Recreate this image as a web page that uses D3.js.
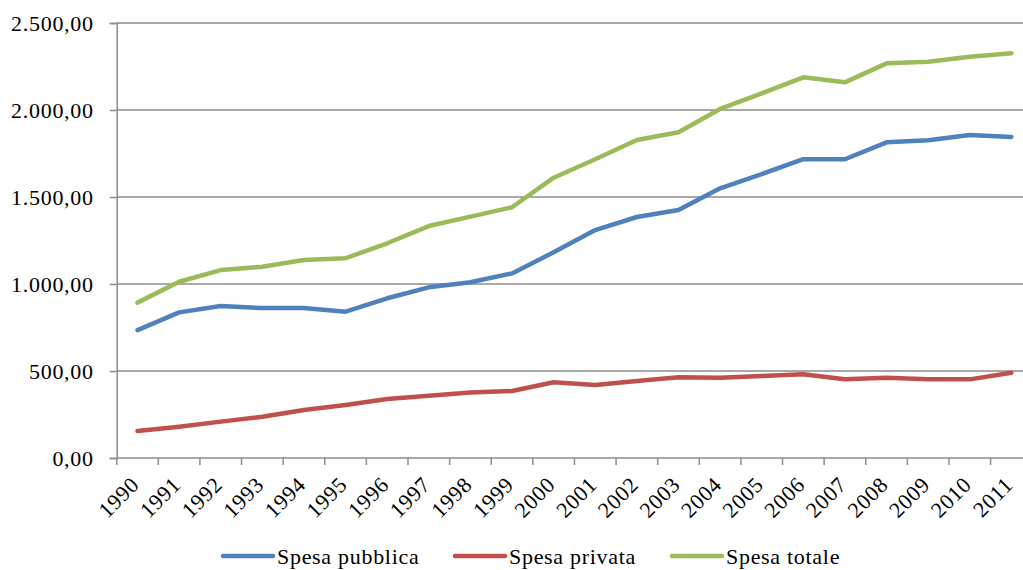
<!DOCTYPE html>
<html><head><meta charset="utf-8">
<script src="https://cdn.jsdelivr.net/npm/d3@7"></script>
<style>body{margin:0;background:#fff}svg{display:block}text{font-family:"Liberation Serif","Times New Roman",serif;fill:#000}</style>
</head><body>
<svg id="c" width="1023" height="570"></svg>
<script>
const years = ["1990","1991","1992","1993","1994","1995","1996","1997","1998","1999","2000","2001","2002","2003","2004","2005","2006","2007","2008","2009","2010","2011"];
const spesaPubblica = [735,837,873,862,862,841,918,981,1010,1061,1182,1310,1385,1425,1550,1632,1717,1717,1814,1826,1856,1845];
const spesaPrivata = [155,180,209,237,276,305,339,358,377,385,435,420,443,464,461,471,481,452,461,452,452,490];
const spesaTotale = [893,1013,1080,1099,1138,1148,1234,1333,1387,1441,1611,1717,1828,1872,2006,2096,2188,2159,2268,2277,2306,2326];
const yTicks = [0,500,1000,1500,2000,2500];
const seriesNames = ["Spesa pubblica","Spesa privata","Spesa totale"];
const colors = ["#4F81BD","#C0504D","#9BBB59"];

const svg = d3.select("#c");
const x = d3.scaleBand().domain(years).range([116.7, 1032.2]);
const y = d3.scaleLinear().domain([0,2500]).range([458,23]);
const fmt = v => d3.format(",.2f")(v).replace(/,/g,"#").replace(/\./g,",").replace(/#/g,".");
const grid = "#8c8c8c";

// gridlines
svg.append("g").selectAll("line").data(yTicks.filter(d=>d>0)).join("line")
  .attr("x1",116.7).attr("x2",1032).attr("y1",d=>y(d)).attr("y2",d=>y(d))
  .attr("stroke",grid).attr("stroke-width",1.5);

// y axis
const ya = svg.append("g").attr("transform","translate(116.7,0)")
  .call(d3.axisLeft(y).tickValues(yTicks).tickSize(7).tickPadding(16).tickFormat(fmt));
ya.select(".domain").attr("stroke",grid).attr("stroke-width",1.5);
ya.selectAll(".tick line").attr("stroke",grid).attr("stroke-width",1.5);
ya.selectAll("text").attr("font-size",22).attr("letter-spacing","0.7px").attr("fill","#000")
  .style("font-family","'Liberation Serif',serif");

// x axis
const xa = svg.append("g").attr("transform","translate(0,458)");
xa.append("line").attr("x1",116.7).attr("x2",1032).attr("stroke",grid).attr("stroke-width",1.5);
xa.selectAll("line.t").data(years.concat(["end"])).join("line").attr("class","t")
  .attr("x1",(d,i)=>116.7+i*x.step()).attr("x2",(d,i)=>116.7+i*x.step())
  .attr("y1",0).attr("y2",7).attr("stroke",grid).attr("stroke-width",1.5);
xa.selectAll("text").data(years).join("text")
  .attr("transform",d=>`translate(${x(d)+x.bandwidth()/2+3},28) rotate(-45)`)
  .attr("text-anchor","end").attr("font-size",22).attr("letter-spacing","0.7px").text(d=>d);

// lines
const allSeries = [spesaPubblica, spesaPrivata, spesaTotale];
const line = d3.line().x((d,i)=>x(years[i])+x.bandwidth()/2).y(d=>y(d));
svg.append("g").selectAll("path").data(allSeries).join("path")
  .attr("d",line).attr("fill","none").attr("stroke",(d,i)=>colors[i])
  .attr("stroke-width",4.5).attr("stroke-linejoin","round").attr("stroke-linecap","round");

// legend
const legX = [223,455,672];
const lg = svg.append("g");
seriesNames.forEach((n,i)=>{
  lg.append("line").attr("x1",legX[i]).attr("x2",legX[i]+50).attr("y1",556).attr("y2",556)
    .attr("stroke",colors[i]).attr("stroke-width",4.5).attr("stroke-linecap","round");
  lg.append("text").attr("x",legX[i]+54).attr("y",563.5).attr("font-size",22)
    .attr("letter-spacing","0.7px").text(n);
});
</script>
</body></html>
